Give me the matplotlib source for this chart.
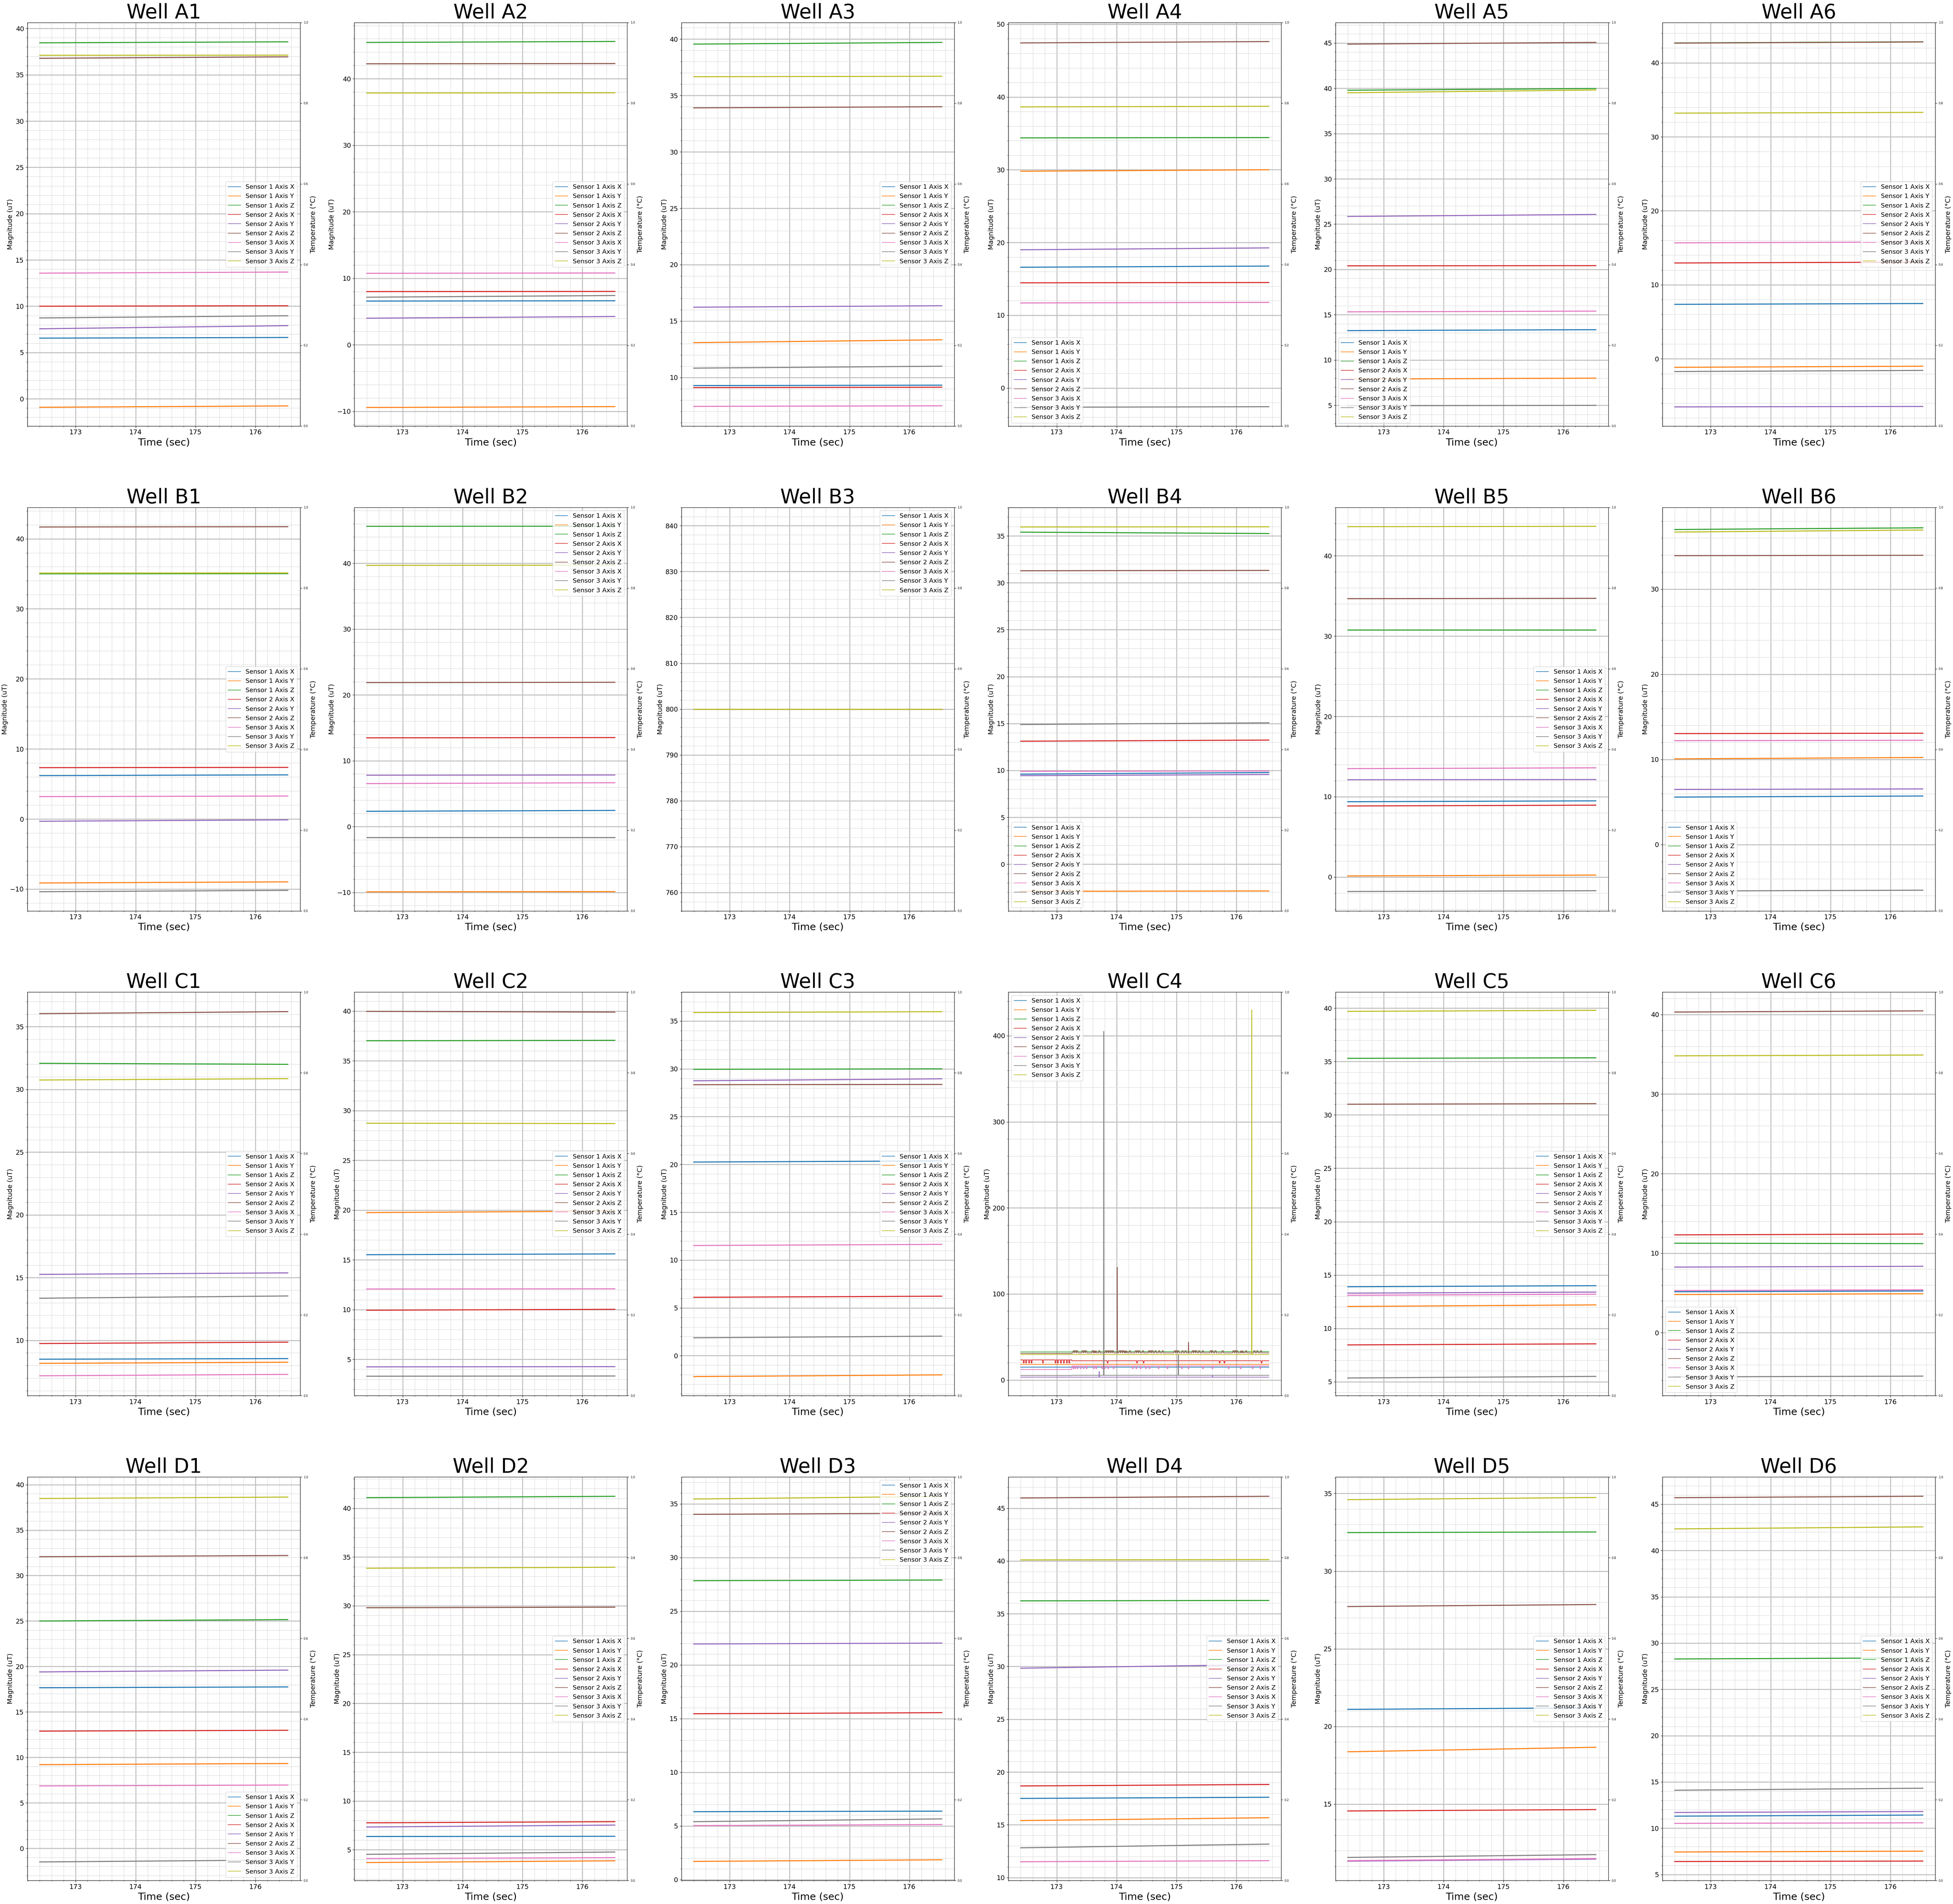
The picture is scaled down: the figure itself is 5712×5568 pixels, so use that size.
import matplotlib
matplotlib.use('Agg')
import matplotlib.pyplot as plt
from matplotlib.ticker import AutoMinorLocator

WELLS = ['A1', 'A2', 'A3', 'A4', 'A5', 'A6',
         'B1', 'B2', 'B3', 'B4', 'B5', 'B6',
         'C1', 'C2', 'C3', 'C4', 'C5', 'C6',
         'D1', 'D2', 'D3', 'D4', 'D5', 'D6']
SERIES = ['Sensor 1 Axis X', 'Sensor 1 Axis Y', 'Sensor 1 Axis Z',
          'Sensor 2 Axis X', 'Sensor 2 Axis Y', 'Sensor 2 Axis Z',
          'Sensor 3 Axis X', 'Sensor 3 Axis Y', 'Sensor 3 Axis Z']
TIME = [172.40, 176.54]   # first and last sample time (sec)

# [start, end] magnitude (uT) per series, in SERIES order
A1 = [[6.55, 6.62], [-0.92, -0.77], [38.45, 38.56], [10.0, 10.05], [7.56, 7.9], [36.78, 36.94], [13.57, 13.69], [8.73, 8.97], [37.1, 37.12]]
A2 = [[6.58, 6.62], [-9.42, -9.29], [45.45, 45.6], [8.0, 8.03], [4.0, 4.26], [42.24, 42.28], [10.75, 10.8], [7.16, 7.41], [37.85, 37.88]]
A3 = [[9.28, 9.32], [13.09, 13.34], [39.55, 39.7], [9.1, 9.14], [16.23, 16.36], [33.9, 34.0], [7.44, 7.49], [10.83, 11.0], [36.66, 36.7]]
A4 = [[16.6, 16.76], [29.8, 30.0], [34.38, 34.42], [14.46, 14.5], [19.0, 19.26], [47.43, 47.62], [11.69, 11.77], [-2.65, -2.57], [38.64, 38.72]]
A5 = [[13.25, 13.35], [7.9, 8.0], [39.78, 39.97], [20.4, 20.42], [25.85, 26.07], [44.87, 45.06], [15.32, 15.4], [4.95, 5.0], [39.5, 39.81]]
A6 = [[7.36, 7.47], [-1.15, -1.0], [42.68, 42.84], [12.95, 13.07], [-6.5, -6.44], [42.66, 42.82], [15.67, 15.79], [-1.72, -1.57], [33.2, 33.3]]
B1 = [[6.2, 6.3], [-9.13, -8.97], [35.0, 35.02], [7.33, 7.37], [-0.32, -0.12], [41.68, 41.72], [3.2, 3.28], [-10.38, -10.18], [35.1, 35.12]]
B2 = [[2.32, 2.45], [-9.92, -9.88], [45.62, 45.64], [13.48, 13.52], [7.8, 7.84], [21.88, 21.92], [6.53, 6.66], [-1.68, -1.68], [39.68, 39.72]]
B3 = [[800.0, 800.0], [800.0, 800.0], [800.0, 800.0], [800.0, 800.0], [800.0, 800.0], [800.0, 800.0], [800.0, 800.0], [800.0, 800.0], [800.0, 800.0]]
B4 = [[9.6, 9.77], [-2.89, -2.86], [35.4, 35.25], [13.11, 13.23], [9.44, 9.56], [31.28, 31.32], [9.9, 9.94], [14.89, 15.07], [35.95, 35.97]]
B5 = [[9.38, 9.49], [0.14, 0.25], [30.78, 30.78], [8.85, 8.95], [12.12, 12.14], [34.66, 34.7], [13.5, 13.6], [-1.8, -1.7], [43.63, 43.67]]
B6 = [[5.58, 5.71], [10.07, 10.23], [37.0, 37.2], [13.04, 13.08], [6.48, 6.54], [33.93, 33.97], [12.21, 12.25], [-5.45, -5.35], [36.7, 36.94]]
C1 = [[8.5, 8.55], [8.17, 8.26], [32.08, 32.0], [9.75, 9.86], [15.26, 15.38], [36.04, 36.2], [7.18, 7.29], [13.36, 13.54], [30.75, 30.86]]
C2 = [[15.52, 15.6], [19.75, 19.9], [37.02, 37.06], [9.94, 10.03], [4.25, 4.27], [39.97, 39.9], [12.07, 12.09], [3.31, 3.33], [28.73, 28.7]]
C3 = [[20.25, 20.37], [-2.19, -2.01], [29.95, 30.0], [6.1, 6.22], [28.75, 28.96], [28.34, 28.37], [11.52, 11.64], [1.87, 2.04], [35.89, 35.98]]
C5 = [[13.9, 14.0], [12.05, 12.2], [35.3, 35.35], [8.45, 8.55], [13.3, 13.4], [31.0, 31.05], [13.1, 13.2], [5.35, 5.5], [39.7, 39.8]]
C6 = [[5.15, 5.25], [4.8, 4.9], [11.25, 11.2], [12.3, 12.4], [8.25, 8.35], [40.3, 40.45], [5.3, 5.4], [-5.55, -5.45], [34.8, 34.9]]
D1 = [[17.66, 17.75], [9.2, 9.33], [25.0, 25.15], [12.89, 12.98], [19.4, 19.6], [32.07, 32.2], [6.86, 6.96], [-1.5, -1.28], [38.47, 38.63]]
D2 = [[6.36, 6.38], [3.69, 3.87], [41.08, 41.22], [7.76, 7.88], [7.33, 7.53], [29.8, 29.86], [4.1, 4.19], [4.53, 4.77], [33.85, 33.95]]
D3 = [[6.33, 6.38], [1.7, 1.85], [27.84, 27.9], [15.45, 15.55], [21.95, 22.03], [34.02, 34.13], [5.03, 5.13], [5.4, 5.66], [35.45, 35.69]]
D4 = [[17.5, 17.61], [15.4, 15.67], [36.22, 36.26], [18.68, 18.82], [29.84, 30.19], [45.97, 46.13], [11.5, 11.6], [12.82, 13.17], [40.1, 40.13]]
D5 = [[21.1, 21.2], [18.37, 18.66], [32.48, 32.52], [14.56, 14.65], [11.33, 11.46], [27.72, 27.85], [11.36, 11.5], [11.57, 11.75], [34.6, 34.74]]
D6 = [[11.3, 11.42], [7.43, 7.52], [28.28, 28.4], [6.4, 6.45], [11.7, 11.8], [45.7, 45.86], [10.52, 10.58], [14.1, 14.32], [42.33, 42.55]]

# Well C4: levels before / after the change at C4_STEP_T, plus spikes and pulses
C4_STEP_T = 173.25
C4_BASE_BEFORE = [14.8, 18.1, 32.6, 23.4, 3.3, 30.9, 12.2, 5.3, 29.6]
C4_BASE_AFTER = [14.8, 18.1, 33.0, 22.4, 3.3, 31.5, 16.4, 5.5, 29.6]
C4_SPIKES = {  # series index -> list of (time, peak value)
    4: [(173.71, 9.9), (175.60, 5.3)],
    5: [(174.01, 131.0), (175.20, 43.8)],
    7: [(173.785, 405.0), (175.03, 30.0)],
    8: [(176.255, 430.0)],
}
C4_S2Z_HIGH_T = [173.285, 173.31, 173.34, 173.43, 173.46, 173.49, 173.60, 173.63, 173.65, 173.71,
                 173.82, 173.85, 173.88, 173.91, 173.94, 174.05, 174.08, 174.11, 174.14, 174.16,
                 174.22, 174.32, 174.35, 174.38, 174.44, 174.54, 174.57, 174.60, 174.65, 174.71,
                 174.77, 174.97, 175.00, 175.03, 175.10, 175.15, 175.27, 175.30, 175.33, 175.38,
                 175.44, 175.57, 175.60, 175.65, 175.77, 175.95, 175.98, 176.01, 176.08, 176.10,
                 176.16, 176.30, 176.35, 176.41]
C4_S2Z_HIGH_V = 34.0
C4_S3X_DIP_T = [173.28, 173.31, 173.35, 173.40, 173.45, 173.50, 173.62, 173.66, 173.76, 173.80,
                173.86, 173.95, 174.27, 174.33, 174.40, 174.49, 174.55, 174.70, 174.85, 175.09,
                175.20, 175.44, 175.60, 175.87, 176.07, 176.27, 176.40]
C4_S3X_DIP_V = 13.2
C4_S2X_DIP_T = [172.45, 172.49, 172.54, 172.58, 172.77, 172.98, 173.02, 173.07, 173.12, 173.17,
                173.21, 173.85, 174.34, 174.45, 175.72, 175.80, 176.42]
C4_S2X_DIP_V = 19.8

DATA = {'A1': A1, 'A2': A2, 'A3': A3, 'A4': A4, 'A5': A5, 'A6': A6,
        'B1': B1, 'B2': B2, 'B3': B3, 'B4': B4, 'B5': B5, 'B6': B6,
        'C1': C1, 'C2': C2, 'C3': C3, 'C5': C5, 'C6': C6,
        'D1': D1, 'D2': D2, 'D3': D3, 'D4': D4, 'D5': D5, 'D6': D6}

YLIMS = [(-2.94, 40.64), (-12.2, 48.44), (5.70, 41.46), (-5.22, 50.23), (2.72, 47.25), (-9.08, 45.44),
         (-13.1, 44.48), (-12.8, 48.5), (756, 844), (-4.97, 38.04), (-4.2, 46.03), (-7.77, 39.6),
         (5.6, 37.75), (1.36, 41.9), (-4.18, 38.02), (-18.1, 450.6), (3.7, 41.5), (-7.9, 42.8),
         (-3.53, 40.84), (1.86, 43.2), (-0.07, 37.5), (9.73, 47.96), (10.09, 36.06), (4.36, 47.94)]
LEGEND_LOC = ['center right', 'center right', 'center right', 'lower left', 'lower left', 'center right',
              'center right', 'upper right', 'upper right', 'lower left', 'center right', 'lower left',
              'center right', 'center right', 'center right', 'upper left', 'center right', 'lower left',
              'lower right', 'center right', 'upper right', 'center right', 'center right', 'center right']
COLORS = ['C0', 'C1', 'C2', 'C3', 'C4', 'C5', 'C6', 'C7', 'C8']


def c4_series(i):
    t0, t1 = TIME
    pts = [(t0, C4_BASE_BEFORE[i]), (C4_STEP_T, C4_BASE_BEFORE[i]),
           (C4_STEP_T + 0.005, C4_BASE_AFTER[i]), (t1, C4_BASE_AFTER[i])]

    def base(t):
        return C4_BASE_BEFORE[i] if t < C4_STEP_T else C4_BASE_AFTER[i]

    events = []
    if i == 5:
        events += [(t, C4_S2Z_HIGH_V, 0.012) for t in C4_S2Z_HIGH_T]
    if i == 6:
        events += [(t, C4_S3X_DIP_V, 0.008) for t in C4_S3X_DIP_T]
    if i == 3:
        events += [(t, C4_S2X_DIP_V, 0.008) for t in C4_S2X_DIP_T]
    for (t, v) in C4_SPIKES.get(i, []):
        events.append((t, v, 0.004))
    for (t, v, w) in events:
        b = base(t)
        pts += [(t - w, b), (t - w + 0.002, v), (t + w - 0.002, v), (t + w, b)]
    pts.sort(key=lambda p: p[0])
    return [p[0] for p in pts], [p[1] for p in pts]


plt.rcParams['font.family'] = 'DejaVu Sans'
fig, axes = plt.subplots(4, 6, figsize=(57.12, 55.68), dpi=100)
fig.subplots_adjust(left=0.0140, right=0.9909, top=0.98815, bottom=0.01239,
                    wspace=0.1985, hspace=0.2017)

for k, well in enumerate(WELLS):
    ax = axes[k // 6][k % 6]
    for i, name in enumerate(SERIES):
        if well == 'C4':
            xs, ys = c4_series(i)
            lw = 1.4
        else:
            xs, ys = TIME, DATA[well][i]
            lw = 2.2
        ax.plot(xs, ys, color=COLORS[i], lw=lw, label=name)
    ax.set_ylim(*YLIMS[k])
    ax.xaxis.set_minor_locator(AutoMinorLocator())
    ax.yaxis.set_minor_locator(AutoMinorLocator())
    ax.grid(which='major', color='#c0c0c0', lw=2.0)
    ax.grid(which='minor', color='#dcdcdc', lw=0.9)
    ax.set_axisbelow(True)
    ax.tick_params(axis='both', which='major', labelsize=14)
    ax.set_title(f'Well {well}', fontsize=42)
    ax.set_xlabel('Time (sec)', fontsize=21)
    ax.set_ylabel('Magnitude (uT)', fontsize=14)
    leg = ax.legend(loc=LEGEND_LOC[k], fontsize=13.2)
    for h in leg.legend_handles:
        h.set_linewidth(1.2)
    ax2 = ax.twinx()
    ax2.set_ylim(0, 1)
    ax2.tick_params(axis='y', labelsize=6)
    ax2.set_ylabel('Temperature (°C)', fontsize=14)

fig.savefig('out.png', dpi=100)
